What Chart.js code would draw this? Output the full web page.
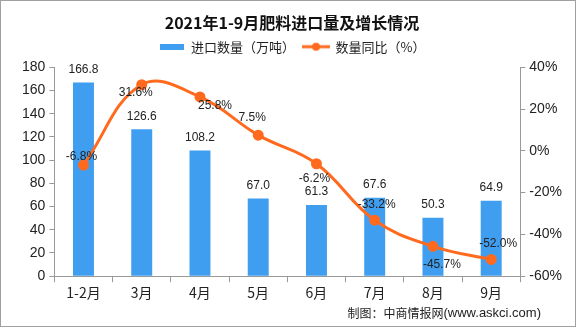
<!DOCTYPE html>
<html>
<head>
<meta charset="utf-8">
<script src="https://cdn.jsdelivr.net/npm/chart.js@4.4.1/dist/chart.umd.min.js"></script>
<style>
html, body { margin: 0; padding: 0; background: #fff; }
#wrap { width: 576px; height: 327px; }
</style>
</head>
<body>
<div id="wrap"><canvas id="chart"></canvas></div>
<script>
// data
const months = ['1-2月', '3月', '4月', '5月', '6月', '7月', '8月', '9月'];
const importVolume = [166.8, 126.6, 108.2, 67.0, 61.3, 67.6, 50.3, 64.9];
const yoyGrowth = [-6.8, 31.6, 25.8, 7.5, -6.2, -33.2, -45.7, -52.0];
const leftTicks = [0, 20, 40, 60, 80, 100, 120, 140, 160, 180];
const rightTicks = [-60, -40, -20, 0, 20, 40];

const BLUE = '#409EF0';
const ORANGE = '#FF6A1F';

// where each growth label sits relative to its point
const growthLabelOffsets = [[-2, -8], [-6, 8], [15, 9], [-6, -17], [-2, 15], [2, -16], [9, 18], [7, -16]];

// legend icons
const barIcon = document.createElement('canvas');
barIcon.width = 24; barIcon.height = 6;
barIcon.getContext('2d').fillStyle = BLUE;
barIcon.getContext('2d').fillRect(0, 0, 24, 6);

const lineIcon = document.createElement('canvas');
lineIcon.width = 28; lineIcon.height = 10;
(() => {
    const c = lineIcon.getContext('2d');
    c.strokeStyle = ORANGE; c.lineWidth = 3;
    c.beginPath(); c.moveTo(0, 5); c.lineTo(28, 5); c.stroke();
    c.fillStyle = ORANGE;
    c.beginPath(); c.arc(14, 5, 4, 0, Math.PI * 2); c.fill();
})();

// leave some room between legend and plot
const legendGap = {
    id: 'legendGap',
    beforeInit(chart) {
        const fit = chart.legend.fit;
        chart.legend.fit = function () {
            fit.call(this);
            this.height += 4;
        };
    }
};

const valueLabels = {
    id: 'valueLabels',
    afterDatasetsDraw(chart) {
        const ctx = chart.ctx;
        ctx.save();
        ctx.font = '12px "Liberation Sans Narrow", "Liberation Sans", sans-serif';
        ctx.fillStyle = '#222';
        ctx.textAlign = 'center';
        ctx.textBaseline = 'middle';
        chart.getDatasetMeta(0).data.forEach((bar, i) => {
            ctx.fillText(importVolume[i].toFixed(1), bar.x, bar.y - 13);
        });
        chart.getDatasetMeta(1).data.forEach((pt, i) => {
            const [dx, dy] = growthLabelOffsets[i];
            ctx.fillText(yoyGrowth[i].toFixed(1) + '%', pt.x + dx, pt.y + dy);
        });
        ctx.restore();
    }
};

const frame = {
    id: 'frame',
    afterDraw(chart) {
        const ctx = chart.ctx;
        ctx.save();
        ctx.fillStyle = '#222';
        ctx.textBaseline = 'middle';
        ctx.textAlign = 'right';
        const site = '(www.askci.com)';
        ctx.font = '13px "Liberation Sans"';
        const w = ctx.measureText(site).width;
        ctx.fillText(site, 541, 313);
        ctx.font = '12px "Noto Sans CJK SC"';
        ctx.fillText('制图：中商情报网', 541 - w, 313);
        ctx.strokeStyle = '#a0a0a0';
        ctx.lineWidth = 1;
        ctx.strokeRect(0.5, 0.5, chart.width - 1, chart.height - 1);
        ctx.restore();
    }
};

new Chart(document.querySelector('#chart'), {
    data: {
        labels: months,
        datasets: [{
            type: 'bar',
            label: '进口数量（万吨）',
            data: importVolume,
            backgroundColor: BLUE,
            barPercentage: 0.36,
            categoryPercentage: 1,
            yAxisID: 'y',
            order: 1
        }, {
            type: 'line',
            label: '数量同比（%）',
            data: yoyGrowth,
            borderColor: ORANGE,
            backgroundColor: ORANGE,
            borderWidth: 3,
            pointRadius: 4,
            tension: 0.4,
            yAxisID: 'y1',
            order: 0
        }]
    },
    options: {
        responsive: true,
        maintainAspectRatio: false,
        animation: false,
        layout: { padding: { left: 18, right: 10, top: 8, bottom: 24 } },
        plugins: {
            title: {
                display: true,
                text: '2021年1-9月肥料进口量及增长情况',
                font: { family: '"Noto Sans CJK SC"', size: 16, weight: 'bold' },
                color: '#111',
                padding: { top: 5, bottom: 0 }
            },
            legend: {
                labels: {
                    usePointStyle: true,
                    pointStyleWidth: 26,
                    font: { family: '"Noto Sans CJK SC"', size: 13 },
                    color: '#222',
                    padding: 8,
                    generateLabels: chart => chart.data.datasets.map((ds, i) => ({
                        text: ds.label,
                        pointStyle: i === 0 ? barIcon : lineIcon,
                        fontColor: '#222',
                        datasetIndex: i,
                        hidden: false,
                        lineWidth: 0
                    }))
                }
            },
            tooltip: { enabled: false }
        },
        scales: {
            x: {
                grid: { display: true, drawOnChartArea: false, color: '#999', tickLength: 6, offset: true },
                border: { color: '#999' },
                ticks: { font: { family: '"Noto Sans CJK SC"', size: 14 }, color: '#222', padding: 2 }
            },
            y: {
                position: 'left',
                min: leftTicks[0],
                max: leftTicks[leftTicks.length - 1],
                afterBuildTicks: axis => { axis.ticks = leftTicks.map(v => ({ value: v })); },
                grid: { display: true, drawOnChartArea: false, color: '#999', tickLength: 5 },
                border: { color: '#999' },
                ticks: { font: { family: '"Liberation Sans"', size: 14 }, color: '#222', padding: 4 }
            },
            y1: {
                position: 'right',
                min: rightTicks[0],
                max: rightTicks[rightTicks.length - 1],
                afterBuildTicks: axis => { axis.ticks = rightTicks.map(v => ({ value: v })); },
                grid: { display: true, drawOnChartArea: false, color: '#999', tickLength: 5 },
                border: { color: '#999' },
                ticks: {
                    font: { family: '"Liberation Sans"', size: 14 },
                    color: '#222',
                    padding: 4,
                    callback: v => v + '%'
                }
            }
        }
    },
    plugins: [legendGap, valueLabels, frame]
});
</script>
</body>
</html>
